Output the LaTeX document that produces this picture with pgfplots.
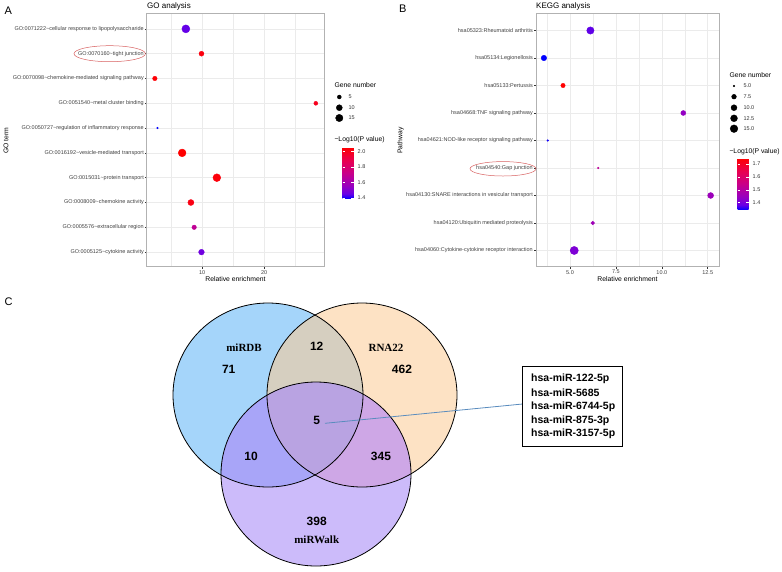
\documentclass[border=0pt]{standalone}
\usepackage{fontspec}
\setmainfont{Liberation Sans}
\newfontfamily\timesf{Liberation Serif}
\usepackage{pgfplots}
\usepackage{pgfplotstable}
\pgfplotsset{compat=1.18}

\definecolor{vennA}{RGB}{165,213,250}
\definecolor{vennB}{RGB}{253,226,196}
\definecolor{vennC}{RGB}{204,187,250}
\definecolor{vennAB}{RGB}{214,207,192}
\definecolor{vennAC}{RGB}{168,165,248}
\definecolor{vennBC}{RGB}{206,167,230}
\definecolor{vennABC}{RGB}{185,163,226}
\definecolor{annred}{RGB}{215,95,95}
\definecolor{lineblue}{RGB}{90,140,190}

\newcommand{\tickf}{\fontsize{5.5}{6.5}\selectfont}
\newcommand{\labf}{\fontsize{6.8}{8}\selectfont}
\newcommand{\titf}{\fontsize{8}{9}\selectfont}
\newcommand{\numf}{\fontsize{12}{14}\selectfont\bfseries}
\newcommand{\namef}{\fontsize{11}{13}\selectfont\timesf\bfseries}
\newcommand{\boxf}{\fontsize{10.5}{12}\selectfont\bfseries}
\newcommand{\tl}{\textasciitilde}

% GO terms: row (1 = bottom), relative enrichment, gene number, -log10(p)
\pgfplotstableread{
y x n p
10 7.37 18 1.45
9 9.89 7 2.03
8 2.37 6 2.05
7 28.34 5 2.00
6 2.79 3 1.385
5 6.77 17 2.06
4 12.37 17 2.04
3 8.18 10 2.02
2 8.71 6 1.69
1 9.89 9 1.47
}\goA

% KEGG pathways
\pgfplotstableread{
y x n p
9 6.11 14 1.38
8 3.58 9 1.343
7 4.62 7 1.747
6 11.17 8 1.44
5 3.79 5 1.35
4 6.54 5 1.52
3 12.66 10 1.455
2 6.24 6 1.46
1 5.23 17 1.41
}\keggB

% legend keys (pixel positions, gene number)
\pgfplotstableread{
x y n
339.3 97 5
339.3 107.7 10
339.3 118 15
}\legA
\pgfplotstableread{
x y n
734 86 5
734 96.7 7.5
734 107.7 10
734 118.3 12.5
734 128.7 15
}\legB

\pgfplotsset{
  colormap={ggbr}{rgb255(0cm)=(0,0,255); rgb255(1cm)=(104,0,230); rgb255(2.5cm)=(151,0,192); rgb255(5cm)=(201,0,137); rgb255(7.5cm)=(233,0,79); rgb255(10cm)=(255,0,0)},
  ggpanel/.style={
    scale only axis, anchor=north west, height=253pt,
    axis line style={black!30, line width=1pt},
    tick pos=left, tick align=outside,
    major tick length=2pt, minor tick length=0pt,
    tick style={black!80, line width=0.5pt},
    ticklabel style={font=\tickf, text=black!75, inner sep=1pt},
    grid=both,
    major grid style={black!8, line width=0.6pt},
    minor grid style={black!8, line width=0.3pt},
    colorbar,
  },
  ggbar/.style={
    at={(parent axis.north east)}, anchor=north west,
    width=11pt, height=52pt, scale only axis,
    axis line style={draw=none},
    tick align=inside, ytick pos=both, yticklabel pos=right,
    major tick length=2.2pt, tick style={white, line width=0.5pt},
    yticklabel style={font=\tickf, text=black!80, inner sep=1pt, xshift=3pt},
  },
  bubA/.style={scatter, only marks, mark=*,
    visualization depends on={\thisrow{n} \as \gn},
    scatter/use mapped color={draw=#1, fill=#1},
    scatter/@pre marker code/.append style={/tikz/mark size={0.84+3.16*sqrt((\gn-3)/15)}}},
  bubB/.style={scatter, only marks, mark=*,
    visualization depends on={\thisrow{n} \as \gn},
    scatter/use mapped color={draw=#1, fill=#1},
    scatter/@pre marker code/.append style={/tikz/mark size={0.9+3.2*sqrt((\gn-5)/12)}}},
}
\tikzset{
  legtxt/.style={font=\tickf, text=black!80, anchor=west, inner sep=0pt},
  boxtxt/.style={font=\boxf, anchor=west, inner sep=0pt},
}

\begin{document}
\begin{tikzpicture}
\useasboundingbox (0pt,0pt) rectangle (782pt,-572pt);

% ---------- A: GO analysis ----------
\begin{axis}[ggpanel, at={(147pt,-14pt)}, width=177pt,
  xmin=1.1, xmax=29.66, ymin=0.4, ymax=10.6,
  xtick={10,20}, xticklabels={10,20}, minor xtick={5,15,25},
  ytick={1,...,10},
  yticklabels={GO:0005125\tl cytokine activity, GO:0005576\tl extracellular region,
    GO:0008009\tl chemokine activity, GO:0015031\tl protein transport,
    GO:0016192\tl vesicle-mediated transport, GO:0050727\tl regulation of inflammatory response,
    GO:0051540\tl metal cluster binding, GO:0070098\tl chemokine-mediated signaling pathway,
    GO:0070160\tl tight junction, GO:0071222\tl cellular response to lipopolysaccharide},
  point meta min=1.385, point meta max=2.061,
  colorbar style={ggbar, xshift=10pt, yshift=-133pt,
    ytick={1.4,1.6,1.8,2.0}, yticklabels={1.4,1.6,1.8,2.0}},
]
\addplot[bubA=mapped color, point meta=\thisrow{p}] table[x=x, y=y] {\goA};
\end{axis}

% ---------- B: KEGG analysis ----------
\begin{axis}[ggpanel, at={(536pt,-14pt)}, width=183pt,
  xmin=3.148, xmax=13.115, ymin=0.4, ymax=9.6,
  xtick={5,7.5,10,12.5}, xticklabels={5.0,7.5,10.0,12.5}, minor xtick={3.75,6.25,8.75,11.25},
  ytick={1,...,9},
  yticklabels={hsa04060:Cytokine-cytokine receptor interaction, hsa04120:Ubiquitin mediated proteolysis,
    hsa04130:SNARE interactions in vesicular transport, hsa04540:Gap junction,
    hsa04621:NOD-like receptor signaling pathway, hsa04668:TNF signaling pathway,
    hsa05133:Pertussis, hsa05134:Legionellosis, hsa05323:Rheumatoid arthritis},
  point meta min=1.343, point meta max=1.747,
  colorbar style={ggbar, xshift=10pt, yshift=-144pt,
    ytick={1.4,1.5,1.6,1.7}, yticklabels={1.4,1.5,1.6,1.7}},
]
\addplot[bubB=mapped color, point meta=\thisrow{p}] table[x=x, y=y] {\keggB};
\end{axis}

% ---------- overlay in pixel coordinates: labels, legends, Venn ----------
\begin{axis}[at={(0pt,0pt)}, anchor=north west, scale only axis,
  width=782pt, height=572pt, xmin=0, xmax=782, ymin=0, ymax=572,
  y dir=reverse, hide axis, clip=false]

\addplot[bubA=black, point meta=\thisrow{n}] table[x=x, y=y] {\legA};
\addplot[bubB=black, point meta=\thisrow{n}] table[x=x, y=y] {\legB};

% panel letters and titles
\node[font=\fontsize{11}{12}\selectfont] at (axis cs:8.3,10.5) {A};
\node[font=\fontsize{11}{12}\selectfont] at (axis cs:402.7,9.2) {B};
\node[font=\fontsize{11}{12}\selectfont] at (axis cs:8.5,301.3) {C};
\node[font=\titf, anchor=west, inner sep=0pt] at (axis cs:147,6.5) {GO analysis};
\node[font=\titf, anchor=west, inner sep=0pt] at (axis cs:536,6.5) {KEGG analysis};
\node[font=\labf] at (axis cs:235.5,279.5) {Relative enrichment};
\node[font=\labf] at (axis cs:627.5,279.5) {Relative enrichment};
\node[font=\labf, rotate=90] at (axis cs:6,140.5) {GO term};
\node[font=\labf, rotate=90] at (axis cs:400.5,140.5) {Pathway};

% legend titles and labels
\node[font=\labf, anchor=west, inner sep=0pt] at (axis cs:334.3,85) {Gene number};
\node[font=\labf, anchor=west, inner sep=0pt] at (axis cs:334.3,140) {−Log10(P value)};
\node[font=\labf, anchor=west, inner sep=0pt] at (axis cs:729.3,74.7) {Gene number};
\node[font=\labf, anchor=west, inner sep=0pt] at (axis cs:729.3,151.7) {−Log10(P value)};
\node[legtxt] at (axis cs:348.3,97) {5};
\node[legtxt] at (axis cs:348.3,107.7) {10};
\node[legtxt] at (axis cs:348.3,118) {15};
\node[legtxt] at (axis cs:743.3,86) {5.0};
\node[legtxt] at (axis cs:743.3,96.7) {7.5};
\node[legtxt] at (axis cs:743.3,107.7) {10.0};
\node[legtxt] at (axis cs:743.3,118.3) {12.5};
\node[legtxt] at (axis cs:743.3,128.7) {15.0};

% highlighted terms
\draw[annred, line width=0.5pt] (axis cs:109.7,53.7) ellipse[x radius=35.7pt, y radius=8pt];
\draw[annred, line width=0.5pt] (axis cs:503,168.8) ellipse[x radius=33pt, y radius=7.2pt];

% Venn diagram
\fill[vennA] (axis cs:268,395) ellipse[x radius=95pt, y radius=92pt];
\fill[vennB] (axis cs:362,395) ellipse[x radius=95pt, y radius=92pt];
\fill[vennC] (axis cs:316,474) ellipse[x radius=95pt, y radius=92pt];
\begin{scope}
  \clip (axis cs:268,395) ellipse[x radius=95pt, y radius=92pt];
  \fill[vennAB] (axis cs:362,395) ellipse[x radius=95pt, y radius=92pt];
\end{scope}
\begin{scope}
  \clip (axis cs:268,395) ellipse[x radius=95pt, y radius=92pt];
  \fill[vennAC] (axis cs:316,474) ellipse[x radius=95pt, y radius=92pt];
\end{scope}
\begin{scope}
  \clip (axis cs:362,395) ellipse[x radius=95pt, y radius=92pt];
  \fill[vennBC] (axis cs:316,474) ellipse[x radius=95pt, y radius=92pt];
\end{scope}
\begin{scope}
  \clip (axis cs:268,395) ellipse[x radius=95pt, y radius=92pt];
  \clip (axis cs:362,395) ellipse[x radius=95pt, y radius=92pt];
  \fill[vennABC] (axis cs:316,474) ellipse[x radius=95pt, y radius=92pt];
\end{scope}
\draw[line width=0.8pt] (axis cs:268,395) ellipse[x radius=95pt, y radius=92pt];
\draw[line width=0.8pt] (axis cs:362,395) ellipse[x radius=95pt, y radius=92pt];
\draw[line width=0.8pt] (axis cs:316,474) ellipse[x radius=95pt, y radius=92pt];

\node[font=\namef] at (axis cs:244,348) {miRDB};
\node[font=\namef] at (axis cs:386,348) {RNA22};
\node[font=\namef] at (axis cs:316.7,540) {miRWalk};
\node[font=\numf] at (axis cs:228.7,369.5) {71};
\node[font=\numf] at (axis cs:316.7,346) {12};
\node[font=\numf] at (axis cs:402,369.5) {462};
\node[font=\numf] at (axis cs:316.7,420) {5};
\node[font=\numf] at (axis cs:251,456.7) {10};
\node[font=\numf] at (axis cs:381,456.7) {345};
\node[font=\numf] at (axis cs:316.7,521.5) {398};

% gene list box
\draw[lineblue, line width=0.8pt] (axis cs:325,423.3) -- (axis cs:522.5,404);
\draw[line width=1.5pt] (axis cs:522.5,366.7) rectangle (axis cs:622.5,446.7);
\node[boxtxt] at (axis cs:531,379) {hsa-miR-122-5p};
\node[boxtxt] at (axis cs:531,392.7) {hsa-miR-5685};
\node[boxtxt] at (axis cs:531,406.7) {hsa-miR-6744-5p};
\node[boxtxt] at (axis cs:531,420.3) {hsa-miR-875-3p};
\node[boxtxt] at (axis cs:531,434) {hsa-miR-3157-5p};
\end{axis}
\end{tikzpicture}
\end{document}
